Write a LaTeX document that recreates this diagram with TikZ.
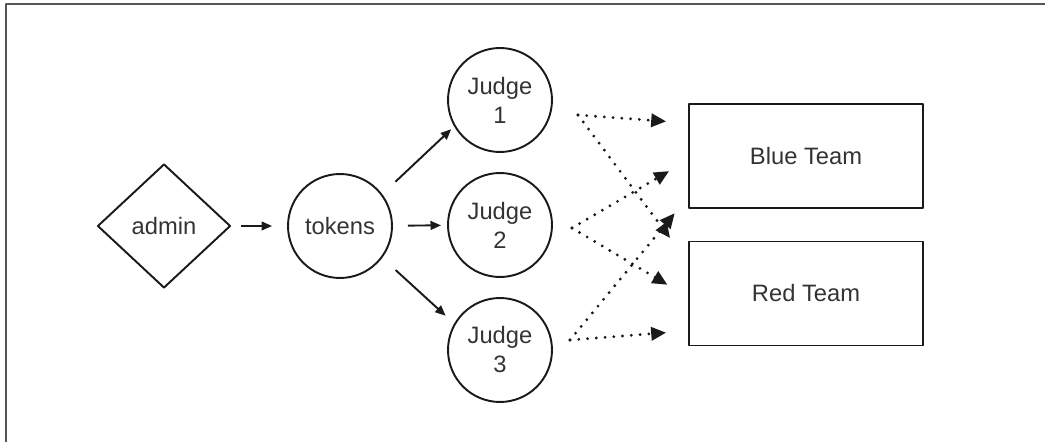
\documentclass[tikz,border=0pt]{standalone}
\usepackage{fontspec}
\setmainfont{Liberation Sans}
\usetikzlibrary{shapes.geometric,arrows.meta}
\definecolor{testo}{HTML}{333333}
\definecolor{cornice}{HTML}{555555}
\definecolor{tratto}{HTML}{1A1A1A}
\begin{document}
\begin{tikzpicture}[x=0.02cm, y=-0.02cm, line width=1.1pt, line join=round,
    font=\fontsize{13.5}{16.5}\selectfont, text=testo, draw=tratto,
    cerchio/.style={circle, draw, minimum size=2.08cm, inner sep=0pt, align=center},
    rombo/.style={diamond, draw, minimum width=2.66cm, minimum height=2.48cm, inner sep=0pt},
    squadra/.style={rectangle, draw, minimum width=4.68cm, minimum height=2.08cm},
    freccia/.style={draw=tratto, -{Triangle[length=6pt, width=5pt]}},
    puntini/.style={draw=tratto, line cap=round, line width=1.8pt, dash pattern=on 0pt off 5pt,
        -{Triangle[length=8.5pt, width=7.5pt]}}]
    \useasboundingbox (0,0) rectangle (1045,442);

    % Cornice (solo lato superiore e sinistro)
    \draw[cornice, line width=1.4pt] (1045,4) -- (6,4) -- (6,442);

    % Nodi
    \node[rombo] (admin) at (164,226) {admin};
    \node[cerchio] (tokens) at (340,226) {tokens};
    \node[cerchio] (giudice1) at (500,100) {Judge\\1};
    \node[cerchio] (giudice2) at (500,225) {Judge\\2};
    \node[cerchio] (giudice3) at (500,350) {Judge\\3};
    \node[squadra] (blu) at (806,156) {Blue Team};
    \node[squadra] (rossa) at (806,293.5) {Red Team};

    % Frecce piene
    \draw[freccia, shorten <=0.2cm, shorten >=0.3cm] (admin) -- (tokens);
    \draw[freccia, shorten <=0.36cm, shorten >=0.08cm] (tokens.37) -- (giudice1.210);
    \draw[freccia, shorten <=0.3cm, shorten >=0.12cm] (tokens) -- (giudice2);
    \draw[freccia, shorten <=0.36cm, shorten >=0.23cm] (tokens.-37) -- (giudice3.150);

    % Partenze delle frecce tratteggiate
    \coordinate (p1) at (578,115);
    \coordinate (p2) at (572,228);
    \coordinate (p3) at (570,340);

    % Frecce punteggiate verso le squadre
    \draw[puntini, shorten >=0.44cm] (p1) -- ([yshift=0.66cm]blu.west);
    \draw[puntini, shorten >=0.44cm] (p2) -- ([yshift=-0.08cm]blu.west);
    \draw[puntini, shorten >=0.42cm] (p3) -- ([yshift=-0.82cm]blu.west);
    \draw[puntini, shorten >=0.6cm] (p1) -- ([yshift=0.63cm]rossa.west);
    \draw[puntini, shorten >=0.48cm] (p2) -- ([yshift=-0.07cm]rossa.west);
    \draw[puntini, shorten >=0.44cm] (p3) -- ([yshift=-0.75cm]rossa.west);
\end{tikzpicture}
\end{document}
